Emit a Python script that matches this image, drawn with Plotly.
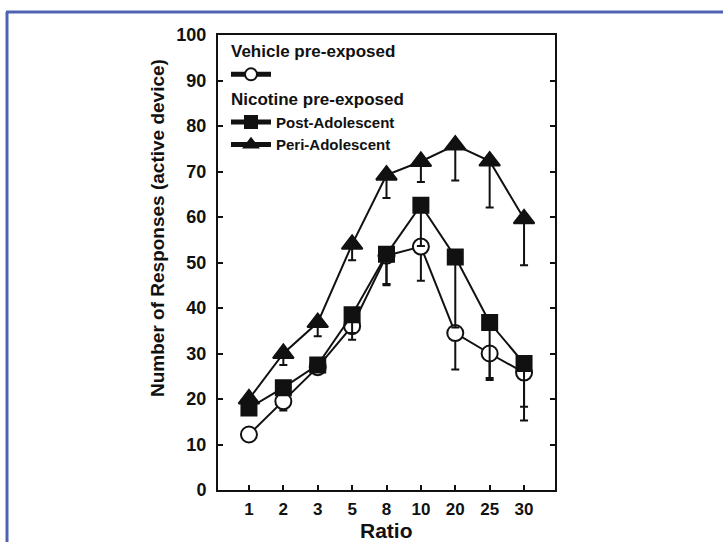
import plotly.graph_objects as go

ratios = ["1", "2", "3", "5", "8", "10", "20", "25", "30"]

vehicle = [12.2, 19.5, 27.0, 36.0, 51.5, 53.5, 34.5, 30.0, 25.8]
vehicle_err = [0.0, 2.0, 1.5, 3.0, 6.5, 7.5, 8.0, 5.8, 10.5]

post_adol = [18.0, 22.5, 27.5, 38.5, 51.8, 62.6, 51.2, 36.8, 27.8]
post_adol_err = [1.5, 1.5, 1.5, 4.0, 6.5, 9.0, 15.5, 12.2, 9.5]

peri_adol = [20.0, 30.0, 36.8, 54.0, 69.2, 72.2, 75.8, 72.3, 59.6]
peri_adol_err = [1.0, 2.5, 3.0, 3.5, 5.0, 4.5, 7.8, 10.2, 10.2]

x_title = "Ratio"
y_title = "Number of Responses (active device)"

FONT = "Liberation Sans, Arial, sans-serif"
INK = "#111111"

fig = go.Figure()

def add(y, err, name, symbol, fill, group, gtitle, size):
    fig.add_trace(go.Scatter(
        x=ratios, y=y, mode="lines+markers", name=name,
        legendgroup=group,
        legendgrouptitle=dict(text=gtitle, font=dict(family=FONT, size=17, color=INK, weight="bold")) if gtitle else None,
        line=dict(color=INK, width=2),
        marker=dict(symbol=symbol, size=size, color=fill, line=dict(color=INK, width=2)),
        error_y=dict(type="data", symmetric=False, array=[0] * len(err), arrayminus=err,
                     color=INK, thickness=2, width=4),
    ))

add(vehicle, vehicle_err, " ", "circle", "white", "veh", "Vehicle pre-exposed", 16)
add(post_adol, post_adol_err, "Post-Adolescent", "square", INK, "nic", "Nicotine pre-exposed", 15)
add(peri_adol, peri_adol_err, "Peri-Adolescent", "triangle-up", INK, "nic", None, 18)

L, R, T, B = 218, 555, 35, 490
W, H = 723, 542
pw, ph = R - L, B - T

def px(x):
    return (x - L) / pw

def py(y):
    return (B - y) / ph

frame_color = "#4F63B3"
shapes = [
    dict(type="line", xref="paper", yref="paper", x0=px(7), x1=px(7), y0=py(12), y1=py(545),
         line=dict(color=frame_color, width=3)),
    dict(type="line", xref="paper", yref="paper", x0=px(6), x1=px(730), y0=py(12), y1=py(12),
         line=dict(color=frame_color, width=3)),
]

annotations = [
    dict(text=y_title, xref="paper", yref="paper", x=px(157), y=py(228),
         xanchor="center", yanchor="middle", textangle=-90, showarrow=False,
         font=dict(family=FONT, size=19, color=INK, weight="bold")),
    dict(text=x_title, xref="paper", yref="paper", x=0.5, y=py(530),
         xanchor="center", yanchor="middle", showarrow=False,
         font=dict(family=FONT, size=21, color=INK, weight="bold")),
]

fig.update_layout(
    width=W, height=H,
    margin=dict(l=L, r=W - R, t=T, b=H - B, pad=0),
    paper_bgcolor="white", plot_bgcolor="white",
    font=dict(family=FONT, color=INK),
    shapes=shapes,
    annotations=annotations,
    showlegend=True,
    legend=dict(
        x=px(226), y=py(33), xanchor="left", yanchor="top",
        bgcolor="rgba(0,0,0,0)", borderwidth=0,
        font=dict(family=FONT, size=15, color=INK, weight="bold"),
        traceorder="grouped", tracegroupgap=0,
        itemsizing="constant", itemwidth=40,
    ),
    xaxis=dict(
        type="category", categoryorder="array", categoryarray=ratios,
        range=[-0.9, 8.9],
        showline=True, linecolor=INK, linewidth=2, mirror=True,
        ticks="inside", ticklen=5, tickwidth=1.5, tickcolor=INK,
        showgrid=False, zeroline=False, ticklabelstandoff=3,
        tickfont=dict(family=FONT, size=17, color=INK, weight="bold"),
    ),
    yaxis=dict(
        range=[0, 100], tickvals=list(range(0, 101, 10)),
        showline=True, linecolor=INK, linewidth=2, mirror="ticks",
        ticks="inside", ticklen=5, tickwidth=1.5, tickcolor=INK,
        showgrid=False, zeroline=False, ticklabelstandoff=6,
        tickfont=dict(family=FONT, size=18, color=INK, weight="bold"),
    ),
)

fig.write_html("out.html")
